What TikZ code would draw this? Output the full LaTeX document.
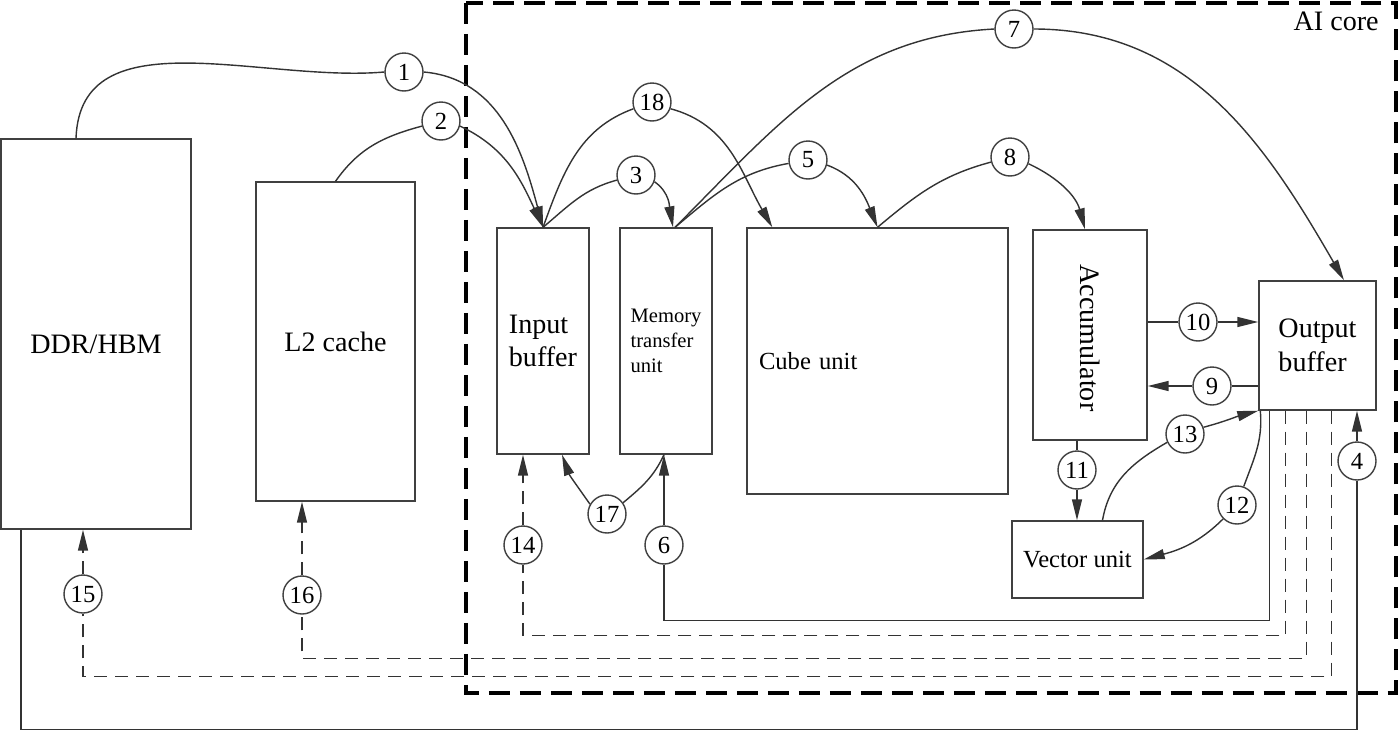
\documentclass[tikz,border=0pt]{standalone}
\usepackage{fontspec}
\setmainfont{Liberation Serif}
\usetikzlibrary{arrows.meta}

\tikzset{
  blk/.style={draw=black!75, line width=0.8pt, inner sep=0pt, font=\fontsize{16}{19}\selectfont},
  num/.style={circle, draw=black!75, line width=0.8pt, fill=white, minimum size=0.76cm, inner sep=0pt, font=\fontsize{14}{14}\selectfont},
  link/.style={draw=black!80, line width=0.8pt},
  arr/.style={link, -{Triangle[length=0.42cm,width=0.2cm]}},
  dashline/.style={dash pattern=on 0.26cm off 0.16cm}
}

\begin{document}
\begin{tikzpicture}[x=0.02cm, y=-0.02cm]
			\useasboundingbox (0,0) rectangle (1400,731);
			%%%%% AI CORE %%%%%
			
			\draw[line width=2.8pt, dash pattern=on 0.42cm off 0.2cm] (466,3) rectangle (1396,693);
			\node[anchor=base east, inner sep=0pt, font=\fontsize{16}{19}\selectfont] (core) at (1379,30) {AI core};
			
			%%%%% UNITS %%%%%
			
			\node[blk, minimum width=3.8cm, minimum height=7.8cm, label={[font=\fontsize{16}{19}\selectfont, yshift=-0.2cm]center:DDR/HBM}] (ddr) at (96,334) {};
			\node[blk, minimum width=3.18cm, minimum height=6.38cm] (l2) at (335.5,341.5) {L2 cache};
			\node[blk, minimum width=1.84cm, minimum height=4.52cm, align=left] (ib) at (543,341) {Input\\buffer};
			\node[blk, minimum width=1.84cm, minimum height=4.52cm, align=left, font=\fontsize{11.7}{14.2}\selectfont] (mtu) at (666,341) {Memory\\transfer\\unit};
			\node[blk, text width=4.74cm, inner xsep=0.24cm, minimum height=5.32cm, align=left, font=\fontsize{14}{17}\selectfont] (cube) at (877.5,361) {Cube unit};
			\node[blk, minimum width=2.28cm, minimum height=4.2cm] (acc) at (1090,335) {};
			\node[rotate=-90, inner sep=0pt, font=\fontsize{16}{19}\selectfont] (acctext) at (1090,338) {Accumulator};
			\node[blk, minimum width=2.34cm, minimum height=2.58cm, align=left] (ob) at (1317.5,345.5) {Output\\buffer};
			\node[blk, minimum width=2.62cm, minimum height=1.54cm, font=\fontsize{14}{17}\selectfont] (vu) at (1077.5,559.5) {Vector unit};
			
			%%%%% STEPS %%%%%
			
			\node[num] (n1) at (404,72) {1};
			\node[num] (n2) at (441,121) {2};
			\node[num] (n3) at (636,175) {3};
			\node[num] (n4) at (1357,461) {4};
			\node[num] (n5) at (808,160) {5};
			\node[num] (n6) at (664,545) {6};
			\node[num] (n7) at (1014,29) {7};
			\node[num] (n8) at (1010,157) {8};
			\node[num] (n9) at (1212,386) {9};
			\node[num] (n10) at (1198,322) {10};
			\node[num] (n11) at (1077,470) {11};
			\node[num] (n12) at (1237,505) {12};
			\node[num] (n13) at (1185,434) {13};
			\node[num] (n14) at (523,545) {14};
			\node[num] (n15) at (83,594) {15};
			\node[num] (n16) at (302,595) {16};
			\node[num] (n17) at (607,514) {17};
			\node[num] (n18) at (652,102) {18};
			
			%%%%% LINKS %%%%%
			
			\draw[link] ([xshift=-0.4cm]ddr.north) to[out=88,in=185] (n1.west);
			\draw[arr] (n1.east) to[out=-5,in=105] (ib.north);
			\draw[link] (l2.north) to[out=55,in=195] (n2.195);
			\draw[arr] (n2.-15) to[out=-25,in=115] (ib.north);
			\draw[link] (ib.north) to[out=70,in=200] (n18.200);
			\draw[arr] (n18.-20) to[out=-15,in=120] ([xshift=0.52cm]cube.north west);
			\draw[link] (ib.north) to[out=40,in=195] (n3.195);
			\draw[arr] (n3.-20) to[out=-35,in=100] ([xshift=0.14cm]mtu.north);
			\draw[link] ([xshift=0.18cm]mtu.north) to[out=40,in=190] (n5.190);
			\draw[arr] (n5.-15) to[out=-20,in=112] (cube.north);
			\draw[link] ([xshift=0.18cm]mtu.north) to[out=45,in=183] (n7.west);
			\draw[arr] (n7.east) to[out=0,in=120] ([xshift=0.53cm]ob.north);
			\draw[link] (cube.north) to[out=40,in=195] (n8.195);
			\draw[arr] (n8.-20) to[out=-25,in=105] ([xshift=-0.1cm]acc.north);
			
			\draw[link] (acc.east |- n10) -- (n10.west);
			\draw[arr] (n10.east) -- (n10 -| ob.west);
			\draw[link] (ob.west |- n9) -- (n9.east);
			\draw[arr] (n9.west) -- (n9 -| acc.east);
			\draw[link] (n11 |- acc.south) -- (n11.north);
			\draw[arr] (n11.south) -- (n11 |- vu.north);
			\draw[link] ([xshift=0.5cm]vu.north) to[out=80,in=210] (n13.205);
			\draw[arr] (n13.20) to[out=15,in=195] (ob.south west);
			\draw[link] ([xshift=0.04cm]ob.south west) to[out=-85,in=70] (n12.70);
			\draw[arr] (n12.225) to[out=-135,in=15] (vu.east);
			
			\draw[link] ([xshift=-0.04cm]mtu.south) to[out=-115,in=40] (n17.35);
			\draw[arr] (n17.150) to[out=125,in=-70] ([xshift=0.38cm]ib.south);
			
			\draw[link] ([xshift=-1.5cm]ddr.south) -- ++(0,200) -| (n4.south);
			\draw[arr] (n4.north) -- (n4 |- ob.south);
			\draw[link] ([xshift=0.22cm]ob.south west) -- ++(0,210) -| (n6.south);
			\draw[arr] (n6.north) -- (n6 |- mtu.south);
			\draw[link, dashline] ([xshift=0.54cm]ob.south west) -- ++(0,225) -| (n14.south);
			\draw[arr, dashline] (n14.north) -- (n14 |- ib.south);
			\draw[link, dashline] ([xshift=0.96cm]ob.south west) -- ++(0,248) -| (n16.south);
			\draw[arr, dashline] (n16.north) -- (n16 |- l2.south);
			\draw[link, dashline] ([xshift=1.46cm]ob.south west) -- ++(0,266) -| (n15.south);
			\draw[arr, dashline] (n15.north) -- (n15 |- ddr.south);
			
			%%%%% END %%%%%
\end{tikzpicture}
\end{document}
